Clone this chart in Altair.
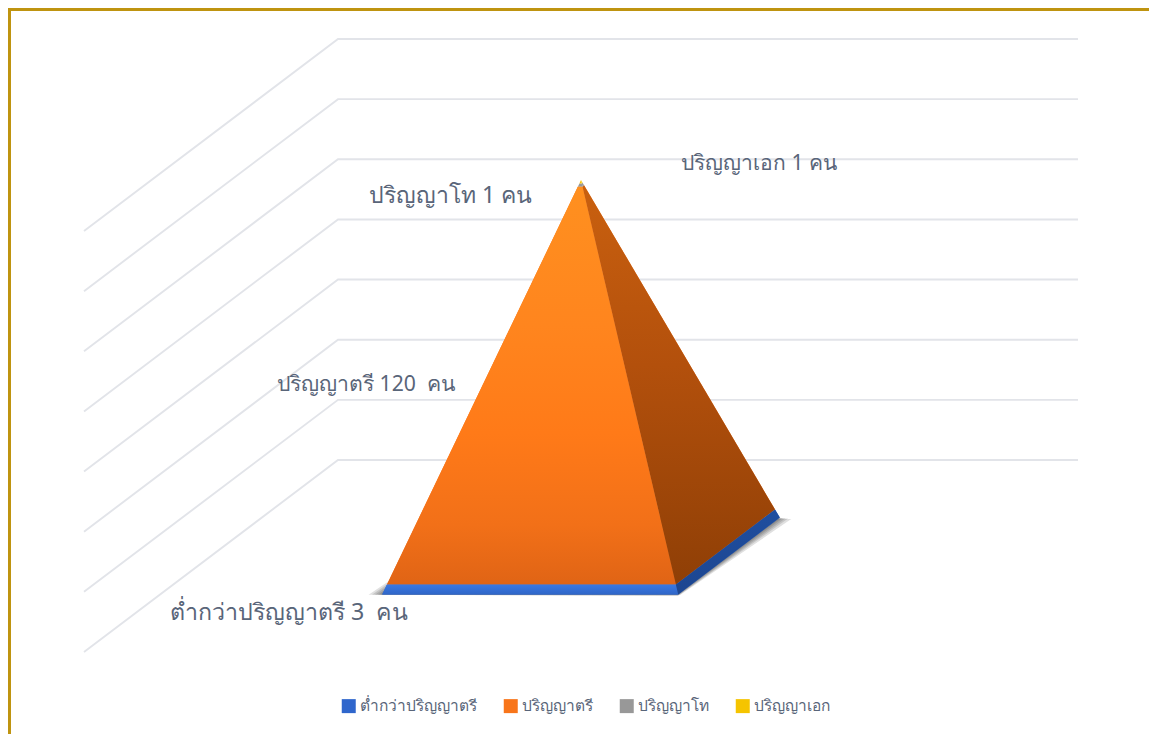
import altair as alt
import pandas as pd

categories = ["ต่ำกว่าปริญญาตรี", "ปริญญาตรี", "ปริญญาโท", "ปริญญาเอก"]
values = [3, 120, 1, 1]
units = ["3\u00a0\u00a0คน", "120\u00a0\u00a0คน", "1 คน", "1 คน"]
legend_colors = ["#2F66CC", "#F8751A", "#989898", "#F5C400"]
grid_values = [0, 20, 40, 60, 80, 100, 120, 140]

W, H = 1141, 726
FONT = "Noto Sans"
TEXT = "#596579"


def project(c, d, v):
    """Oblique projection of (category, depth, value) to page coordinates."""
    return 84 + 740 * c + 254 * d, 652 - 192 * d - 421 / 140 * v


total = sum(values)
base_half = 0.2


def half(v):
    return base_half * (1 - v / total)


def face(name, cat, pts, rows):
    for i, p in enumerate(pts):
        x, y = project(*p)
        rows.append(dict(face=name, cat=cat, i=i, x=x, y=y))


rows = []
low = 0
for cat, val in zip(categories, values):
    high = low + val
    a, b = half(low), half(high)
    face(cat + "|front", cat, [(.5 - a, .5 - a, low), (.5 + a, .5 - a, low),
                               (.5 + b, .5 - b, high), (.5 - b, .5 - b, high)], rows)
    face(cat + "|side", cat, [(.5 + a, .5 - a, low), (.5 + a, .5 + a, low),
                              (.5 + b, .5 + b, high), (.5 + b, .5 - b, high)], rows)
    low = high
faces = pd.DataFrame(rows)

grid_rows = []
for v in grid_values:
    for i, (c, d) in enumerate([(0, 0), (0, 1), (1, 1)]):
        x, y = project(c, d, v)
        grid_rows.append(dict(v=v, i=i, x=x, y=y))
grid = pd.DataFrame(grid_rows)

shadow_rows = []
for k, (grow_x, grow_d) in enumerate([(.018, .003), (.013, .006), (.009, .006), (.005, .005), (.002, .004)]):
    a = base_half
    pts = [(.5 - a - grow_x, .5 - a - grow_d * .4), (.5 + a + grow_x * .2, .5 - a - grow_d),
           (.5 + a + grow_x, .5 + a - grow_x * .4), (.5 - a, .5 + a)]
    for i, (c, d) in enumerate(pts):
        x, y = project(c, d, 0)
        shadow_rows.append(dict(k=k, i=i, x=x, y=y))
shadow = pd.DataFrame(shadow_rows)

X = alt.X("x:Q", axis=None, scale=alt.Scale(domain=[8, 8 + W], nice=False, zero=False))
Y = alt.Y("y:Q", axis=None, scale=alt.Scale(domain=[8 + H, 8], nice=False, zero=False))
ORDER = alt.Order("i:Q")


def grad(*stops):
    return alt.Gradient(
        gradient="linear", x1=0, x2=0, y1=0, y2=1,
        stops=[alt.GradientStop(offset=o, color=c) for o, c in stops],
    )


grid_layer = alt.Chart(grid).mark_line(color="#E2E4E9", strokeWidth=1.9).encode(
    x=X, y=Y, detail="v:N", order=ORDER)

shadow_layer = alt.Chart(shadow).mark_line(
    fill="#000000", fillOpacity=0.12, strokeWidth=0, stroke="transparent"
).encode(x=X, y=Y, detail="k:N", order=ORDER)

base = alt.Chart(faces).mark_line(strokeWidth=0, stroke="transparent", fillOpacity=1).encode(
    x=X, y=Y, detail="face:N", order=ORDER,
    fill=alt.Fill("cat:N",
                  scale=alt.Scale(domain=categories, range=legend_colors),
                  sort=categories,
                  legend=alt.Legend(
                      title=None, orient="none", legendX=333, legendY=690, direction="horizontal",
                      columns=4, symbolType="square", symbolSize=196, symbolStrokeWidth=0,
                      labelFont=FONT, labelFontSize=15.5, labelColor=TEXT, labelOffset=3,
                      columnPadding=26, gridAlign="each", symbolOpacity=1)),
)


def shaded(cat, kind, fill):
    sub = faces[faces.face == f"{cat}|{kind}"]
    return alt.Chart(sub).mark_line(fill=fill, strokeWidth=0, stroke="transparent").encode(
        x=X, y=Y, order=ORDER)


overlays = [
    shaded(categories[1], "front", grad((0, "#FF901F"), (.35, "#FF851E"), (.62, "#FF7A18"), (.85, "#F27018"), (1, "#E06415"))),
    shaded(categories[1], "side", grad((0, "#C9600F"), (.45, "#B3500C"), (1, "#8F3F06"))),
    shaded(categories[0], "front", grad((0, "#3A78E2"), (1, "#2F66C8"))),
    shaded(categories[0], "side", grad((0, "#1F4E9F"), (1, "#1D4690"))),
]

label_place = [(170, 613), (277, 385), (369, 196), (681, 164)]
label_size = [23.2, 21.2, 23, 21]
labels = []
for cat, unit, (lx, ly), size in zip(categories, units, label_place, label_size):
    labels.append(
        alt.Chart(pd.DataFrame({"t": [f"{cat} {unit}"]})).mark_text(
            align="left", baseline="middle", font=FONT, fontSize=size, color=TEXT,
            x=lx - 8, y=ly - 8,
        ).encode(text="t:N")
    )

frame_color = "#BF9410"
frame_left = alt.Chart(pd.DataFrame({"a": [0]})).mark_rule(color=frame_color, strokeWidth=3).encode(
    x=alt.value(1.5), y=alt.value(0), y2=alt.value(H))
frame_top = alt.Chart(pd.DataFrame({"a": [0]})).mark_rule(color=frame_color, strokeWidth=3).encode(
    x=alt.value(0), x2=alt.value(W), y=alt.value(1.5))

chart = alt.layer(
    grid_layer, shadow_layer, base, *overlays, *labels, frame_left, frame_top
).properties(
    width=W, height=H, padding=0, autosize=alt.AutoSizeParams(type="none")
).configure_view(stroke=None).resolve_scale(fill="shared")

chart.save("out.html", embed_options={"renderer": "svg", "actions": False})
